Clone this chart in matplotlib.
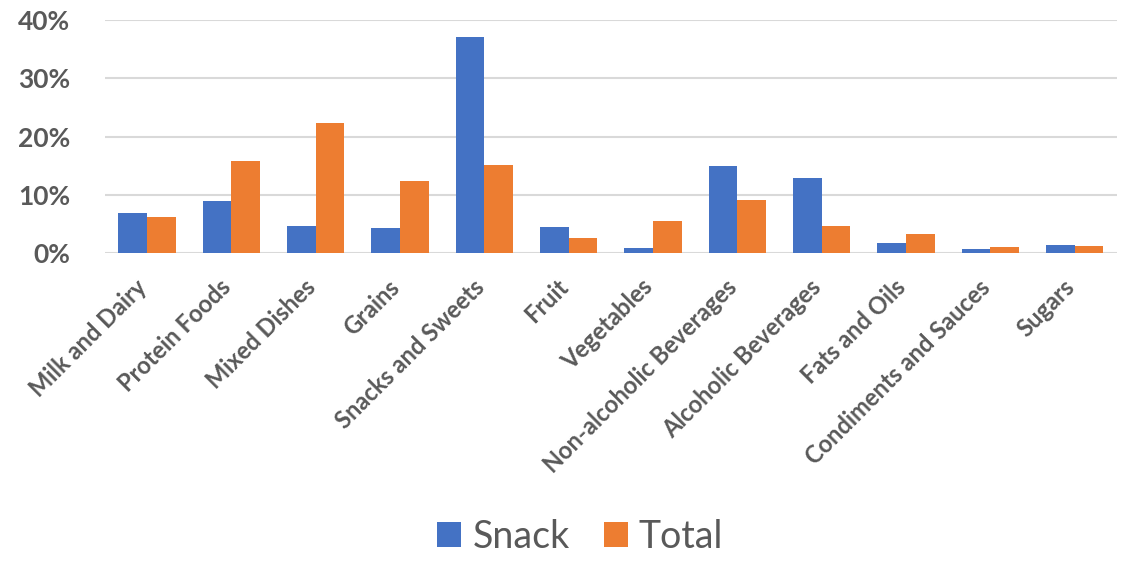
import matplotlib
matplotlib.use("Agg")
import matplotlib.pyplot as plt
import matplotlib.transforms as mtransforms
import numpy as np
from matplotlib.ticker import PercentFormatter

categories = [
    "Milk and Dairy", "Protein Foods", "Mixed Dishes", "Grains",
    "Snacks and Sweets", "Fruit", "Vegetables", "Non-alcoholic Beverages",
    "Alcoholic Beverages", "Fats and Oils", "Condiments and Sauces", "Sugars",
]
snack = [6.8, 8.9, 4.7, 4.25, 37.1, 4.5, 0.9, 15.0, 12.9, 1.7, 0.75, 1.4]
total = [6.2, 15.8, 22.4, 12.4, 15.1, 2.5, 5.4, 9.1, 4.7, 3.3, 1.0, 1.15]
yticks = [0, 10, 20, 30, 40]

plt.rcParams["font.family"] = ["Lato", "DejaVu Sans"]
grey = "#595959"

fig = plt.figure(figsize=(11.27, 5.62), dpi=100)
ax = fig.add_axes([0.093, 0.55, 0.898, 0.414])

x = np.arange(len(categories))
w = 0.34
ax.bar(x - w / 2, snack, w, color="#4472c4", label="Snack", zorder=3)
ax.bar(x + w / 2, total, w, color="#ed7d31", label="Total", zorder=3)

ax.set_xlim(-0.5, len(categories) - 0.5)
ax.set_ylim(0, 40)
ax.set_yticks(yticks)
ax.yaxis.set_major_formatter(PercentFormatter(decimals=0))
ax.grid(axis="y", color="#d9d9d9", lw=1.5, zorder=0)
for s in ax.spines.values():
    s.set_visible(False)
ax.tick_params(length=0)
ax.tick_params(axis="y", labelsize=19, labelcolor=grey, pad=25)
for t in ax.get_yticklabels():
    t.set_fontweight("bold")

ax.set_xticks(x)
ax.set_xticklabels(categories, rotation=45, ha="right", va="center",
                   rotation_mode="anchor", fontsize=17, fontweight="bold", color=grey)
ax.tick_params(axis="x", pad=22)
# small leftward nudge for the slanted labels
shift = mtransforms.ScaledTranslation(-4 / 100, 0, fig.dpi_scale_trans)
for t in ax.get_xticklabels():
    t.set_transform(t.get_transform() + shift)

leg = fig.legend(loc="center", bbox_to_anchor=(0.515, 0.045), ncol=2, frameon=False,
                 fontsize=27, handlelength=0.64, handleheight=0.64, columnspacing=0.9,
                 handletextpad=0.3)
for t in leg.get_texts():
    t.set_color(grey)

fig.savefig("out.png", dpi=100)
